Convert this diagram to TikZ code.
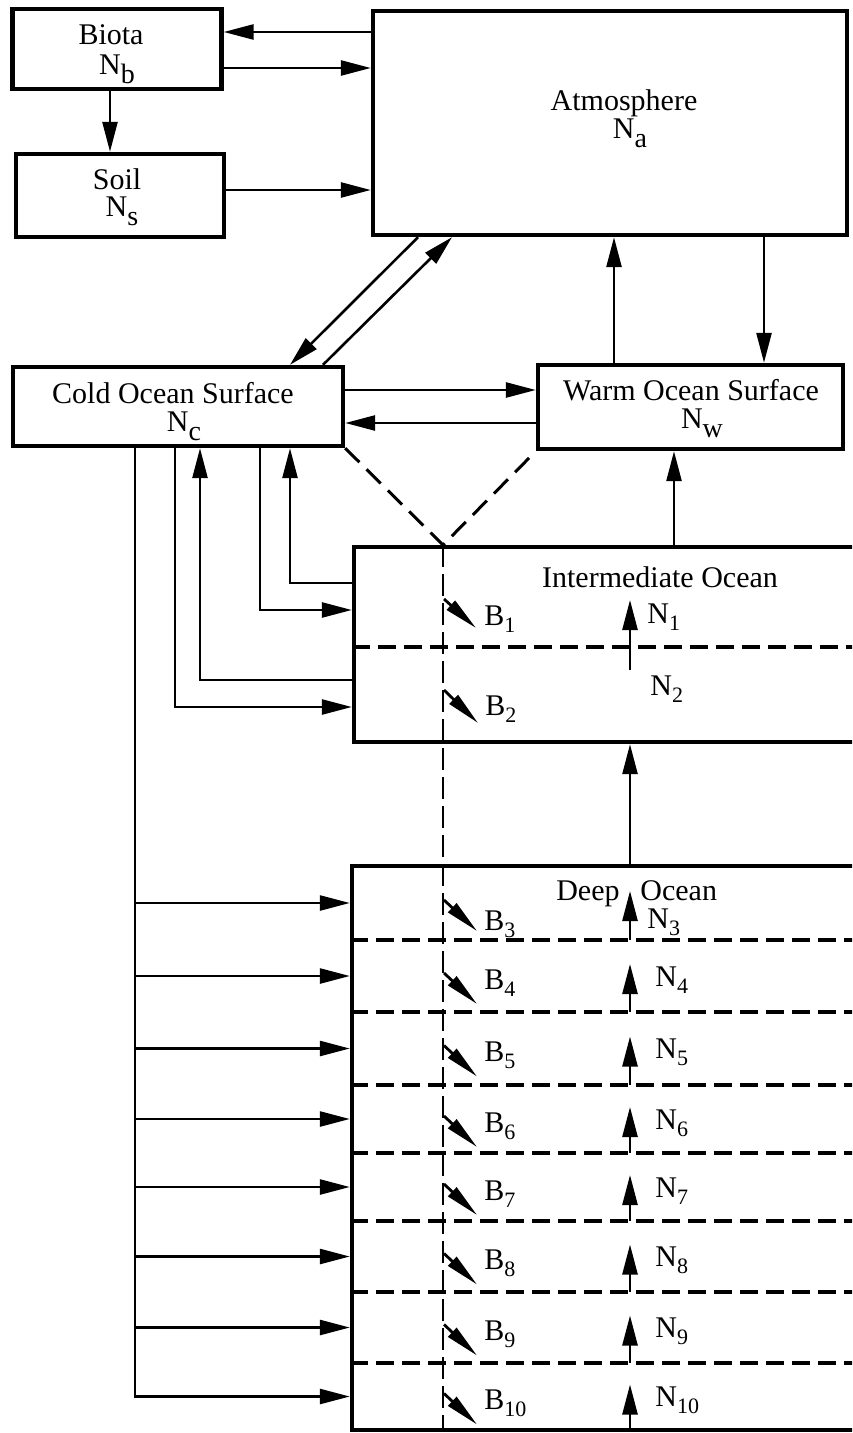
\documentclass[tikz,border=0pt]{standalone}
\usepackage{fontspec}
\setmainfont{Liberation Serif}
\usetikzlibrary{arrows.meta,calc}
\newcommand{\boxsub}[1]{\raisebox{-4.5pt}{\fontsize{14}{14}\selectfont #1}}
\newcommand{\laysub}[1]{\raisebox{-3.5pt}{\fontsize{11}{11}\selectfont #1}}

\begin{document}
\begin{tikzpicture}[x=0.5pt,y=-0.5pt,line join=miter,
 every node/.style={font=\fontsize{15}{16}\selectfont},
 box/.style={draw,line width=2.2pt,inner sep=0pt},
 txt/.style={anchor=base,inner sep=0pt},
 arr/.style={line width=1.3pt,-{Triangle[length=15pt,width=7.5pt]}},
 barr/.style={line width=1.4pt,-{Triangle[length=17pt,width=6pt]}},
 divider/.style={line width=2.2pt,dash pattern=on 9pt off 4pt},
 vdash/.style={line width=1.5pt,dash pattern=on 10pt off 5pt}]
\useasboundingbox (0,0) rectangle (852,1433);
\clip (0,0) rectangle (852,1433);
% Pudelka zbiornikow
\node[box,minimum width=104.5pt,minimum height=40pt] (biota) at (117,49) {};
\node[box,minimum width=104pt,minimum height=41.5pt] (soil) at (120,195.5) {};
\node[box,minimum width=237pt,minimum height=112pt] (atm) at (610,123) {};
\node[box,minimum width=165pt,minimum height=39.5pt] (cold) at (178,406.5) {};
\node[box,minimum width=152.5pt,minimum height=42pt] (warm) at (690.5,407) {};
\node[box,minimum width=273pt,minimum height=97.5pt] (inter) at (627,644.5) {};
\node[box,minimum width=274pt,minimum height=282pt] (deep) at (626,1148) {};
\node[txt] (biotaname) at (111,45) {Biota};
\node[txt] (biotaN) at (117,75) {N\boxsub{b}};
\node[txt] (soilname) at (117,190) {Soil};
\node[txt] (soilN) at (122,217) {N\boxsub{s}};
\node[txt] (atmname) at (624,111) {Atmosphere};
\node[txt] (atmN) at (630,139) {N\boxsub{a}};
\node[txt] (coldname) at (173,403) {Cold Ocean Surface};
\node[txt] (coldN) at (184,431) {N\boxsub{c}};
\node[txt] (warmname) at (691,400) {Warm Ocean Surface};
\node[txt] (warmN) at (702,428) {N\boxsub{w}};
\node[txt] (intername) at (660,587) {Intermediate Ocean};
\node[txt,anchor=base east] (deepname) at (620,900) {Deep};
\node[txt,anchor=base west] (deepname2) at (640,900) {Ocean};
% Wymiana z atmosfera
\draw[arr] ([yshift=8.5pt]biota.east -| atm.west) -- ([yshift=8.5pt]biota.east);
\draw[arr] ([yshift=-9.5pt]biota.east) -- ([yshift=-9.5pt]biota.east -| atm.west);
\draw[arr] ([xshift=-3.5pt]biota.south) -- ([xshift=-3.5pt]biota.south |- soil.north);
\draw[arr] ([yshift=2.75pt]soil.east) -- ([yshift=2.75pt]soil.east -| atm.west);
\draw[arr] ([xshift=-96pt]atm.south) -- ([xshift=56pt]cold.north);
\draw[arr] ([xshift=72.5pt]cold.north) -- ([xshift=-79pt]atm.south);
\draw[arr] ([xshift=-38.25pt]warm.north) -- ([xshift=-38.25pt]warm.north |- atm.south);
\draw[arr] ([xshift=36.75pt]warm.north |- atm.south) -- ([xshift=36.75pt]warm.north);
\draw[arr] ([yshift=8.25pt]cold.east) -- ([yshift=8.25pt]cold.east -| warm.west);
\draw[arr] ([yshift=-8.25pt]cold.east -| warm.west) -- ([yshift=-8.25pt]cold.east);
% Granica: linie przerywane
\coordinate (apex) at (443,545);
\draw[vdash] (cold.south east) -- (apex) -- (warm.south west);
\draw[line width=1.3pt,dash pattern=on 11pt off 3.5pt] (apex) -- (apex |- deep.south);
% Ocean posredni i gleboki
\draw[arr] ([xshift=-8.25pt]warm.south |- inter.north) -- ([xshift=-8.25pt]warm.south);
\draw[arr] ([xshift=2pt]deep.north) -- ([xshift=2pt]deep.north |- inter.south);
\draw[arr] ([yshift=30.75pt]inter.west) -| ([xshift=56pt]cold.south);
\draw[arr] ([xshift=41pt]cold.south) |- ([yshift=17.25pt]inter.west);
\draw[arr] ([yshift=-17.75pt]inter.west) -| ([xshift=11pt]cold.south);
\draw[arr] ([xshift=-1.5pt]cold.south) |- ([yshift=-31.25pt]inter.west);
\draw[divider] (inter.west |- 0,647) -- (inter.east |- 0,647);
\draw[barr] (444,599) -- (476,628);
\node[txt,anchor=base west] (B1) at (484,625) {B\laysub{1}};
\draw[arr] (630,670) -- (630,600);
\node[txt,anchor=base west] (N1) at (647,623) {N\laysub{1}};
\draw[barr] (444,690) -- (478,723);
\node[txt,anchor=base west] (B2) at (485,715) {B\laysub{2}};
\node[txt,anchor=base west] (N2) at (650,695) {N\laysub{2}};
\coordinate (trunk) at ([xshift=-21.5pt]cold.south);
\foreach \k/\t/\b in {3/866/940,4/940/1012,5/1012/1085,6/1085/1153,
 7/1153/1221,8/1221/1292,9/1292/1363,10/1363/1430}{
  \pgfmathsetmacro{\m}{(\t+\b)/2}
  \ifnum\k<10 \draw[divider] (deep.west |- 0,\b) -- (deep.east |- 0,\b); \fi
  \coordinate (in\k) at (deep.west |- 0,\m);
  \draw[arr] (trunk |- in\k) -- (in\k);
  \draw[barr] (444,\m-3) -- (477,\m+28);
  \draw[arr] (630,\b) -- (630,\m-12);
  \ifnum\k=3
   \node[txt,anchor=base west] (B\k) at (484,\m+27) {B\laysub{\k}};
   \node[txt,anchor=base west] (N\k) at (647,\m+25) {N\laysub{\k}};
  \else
   \node[txt,anchor=base west] (B\k) at (484,\m+13) {B\laysub{\k}};
   \node[txt,anchor=base west] (N\k) at (655,\m+10) {N\laysub{\k}};
  \fi
}
\draw[line width=1.3pt,line cap=rect] (trunk) -- (trunk |- in10);
\end{tikzpicture}
\end{document}
